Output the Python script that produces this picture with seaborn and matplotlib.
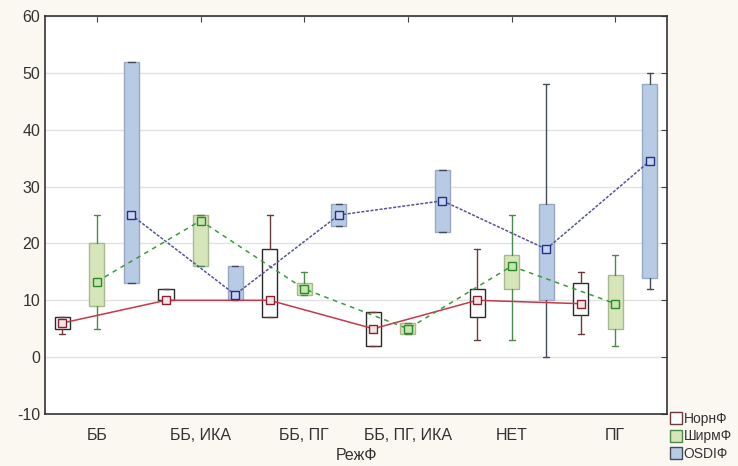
import numpy as np
import pandas as pd
import matplotlib
matplotlib.use("Agg")
import matplotlib.pyplot as plt
import seaborn as sns
from matplotlib.lines import Line2D

# ── Data ──────────────────────────────────────────────────────
categories = ["ББ", "ББ, ИКА", "ББ, ПГ", "ББ, ПГ, ИКА", "НЕТ", "ПГ"]
series_names = ["НорнФ", "ШирмФ", "OSDIФ"]

norn_med = [6, 10, 10, 5, 10, 9.4]
norn_q1 = [5, 10, 7, 2, 7, 7.5]
norn_q3 = [7, 12, 19, 8, 12, 13]
norn_lo = [4, 10, 7, 2, 3, 4]
norn_hi = [7, 12, 25, 8, 19, 15]

shirm_med = [13.3, 24, 12, 5, 16, 9.4]
shirm_q1 = [9, 16, 11, 4, 12, 5]
shirm_q3 = [20, 25, 13, 6, 18, 14.5]
shirm_lo = [5, 16, 11, 4, 3, 2]
shirm_hi = [25, 25, 15, 6, 25, 18]

osdi_med = [25, 11, 25, 27.5, 19, 34.5]
osdi_q1 = [13, 10, 23, 22, 10, 14]
osdi_q3 = [52, 16, 27, 33, 27, 48]
osdi_lo = [13, 10, 23, 22, 0, 12]
osdi_hi = [52, 16, 27, 33, 48, 50]

y_ticks = [-10, 0, 10, 20, 30, 40, 50, 60]

# ── Style per series ─────────────────────────────────────────
styles = [
    dict(offset=-1 / 3, line="#c8384a", ls="-", box_fc="white", box_ec="#2a2a2a",
         whisk="#6b3a3a", mk_fc="#f4e4e4", mk_ec="#8a2030"),
    dict(offset=0.0, line="#3c9a3c", ls=(0, (3, 3)), box_fc="#d6e6b8", box_ec="#a8b890",
         whisk="#4a8a4a", mk_fc="#c8e4b0", mk_ec="#2a8a2a"),
    dict(offset=1 / 3, line="#55559a", ls=(0, (2, 1)), box_fc="#b8cbe4", box_ec="#98a8c0",
         whisk="#444a5a", mk_fc="#c8d4ee", mk_ec="#22308a"),
]
data = [
    (norn_med, norn_q1, norn_q3, norn_lo, norn_hi),
    (shirm_med, shirm_q1, shirm_q3, shirm_lo, shirm_hi),
    (osdi_med, osdi_q1, osdi_q3, osdi_lo, osdi_hi),
]

sns.set_style("white")
plt.rcParams["font.family"] = ["Liberation Sans", "DejaVu Sans"]
plt.rcParams["axes.unicode_minus"] = False

fig = plt.figure(figsize=(7.38, 4.66), dpi=100)
fig.patch.set_facecolor("#fbf8f1")
ax = fig.add_axes([0.061, 0.1116, 0.843, 0.854])
ax.set_facecolor("white")

x_idx = np.arange(len(categories))
for name, st, (med, q1, q3, lo, hi) in zip(series_names, styles, data):
    stats = [dict(med=m, q1=a, q3=b, whislo=l, whishi=h, label=c)
             for m, a, b, l, h, c in zip(med, q1, q3, lo, hi, categories)]
    pos = x_idx + st["offset"]
    ax.bxp(stats, positions=pos, widths=0.145, showfliers=False, patch_artist=True,
           manage_ticks=False, capwidths=0.06,
           boxprops=dict(facecolor=st["box_fc"], edgecolor=st["box_ec"], linewidth=1.0),
           whiskerprops=dict(color=st["whisk"], linewidth=1.0),
           capprops=dict(color=st["whisk"], linewidth=1.0),
           medianprops=dict(linewidth=0), zorder=2)
    df = pd.DataFrame({"x": pos, "y": med})
    sns.lineplot(data=df, x="x", y="y", ax=ax, color=st["line"], linestyle=st["ls"],
                 linewidth=1.1, marker="s", markersize=5.5, markerfacecolor=st["mk_fc"],
                 markeredgecolor=st["mk_ec"], markeredgewidth=1.0, zorder=3)

ax.set_xlim(-0.5, len(categories) - 0.5)
ax.set_ylim(-10, 60)
ax.set_yticks(y_ticks)
ax.set_xticks(x_idx)
ax.set_xticklabels(categories)
ax.yaxis.grid(True, color="#e2e2e2", linewidth=1.0)
ax.set_axisbelow(True)
ax.tick_params(direction="in", length=4, color="#444444", labelcolor="#333333",
               labelsize=11.5, top=True, right=True, labelright=False, labeltop=False)
ax.tick_params(axis="x", pad=10)
ax.set_xlabel("РежФ", fontsize=11.5, color="#333333", labelpad=4)
ax.set_ylabel("")
for sp in ax.spines.values():
    sp.set_color("#333333")
    sp.set_linewidth(1.2)

handles = [Line2D([0], [0], color=st["line"], linestyle="-", linewidth=1.0, marker="s",
                  markersize=8, markerfacecolor=st["box_fc"], markeredgecolor=st["whisk"])
           for st in styles]
fig.legend(handles, series_names, loc="lower left", bbox_to_anchor=(0.905, 0.005),
           frameon=False, fontsize=10, handlelength=0.7, handletextpad=0.25,
           labelspacing=0.25, borderpad=0.1, borderaxespad=0.1, labelcolor="#333333")

fig.savefig("out.png", dpi=100, facecolor=fig.get_facecolor())
